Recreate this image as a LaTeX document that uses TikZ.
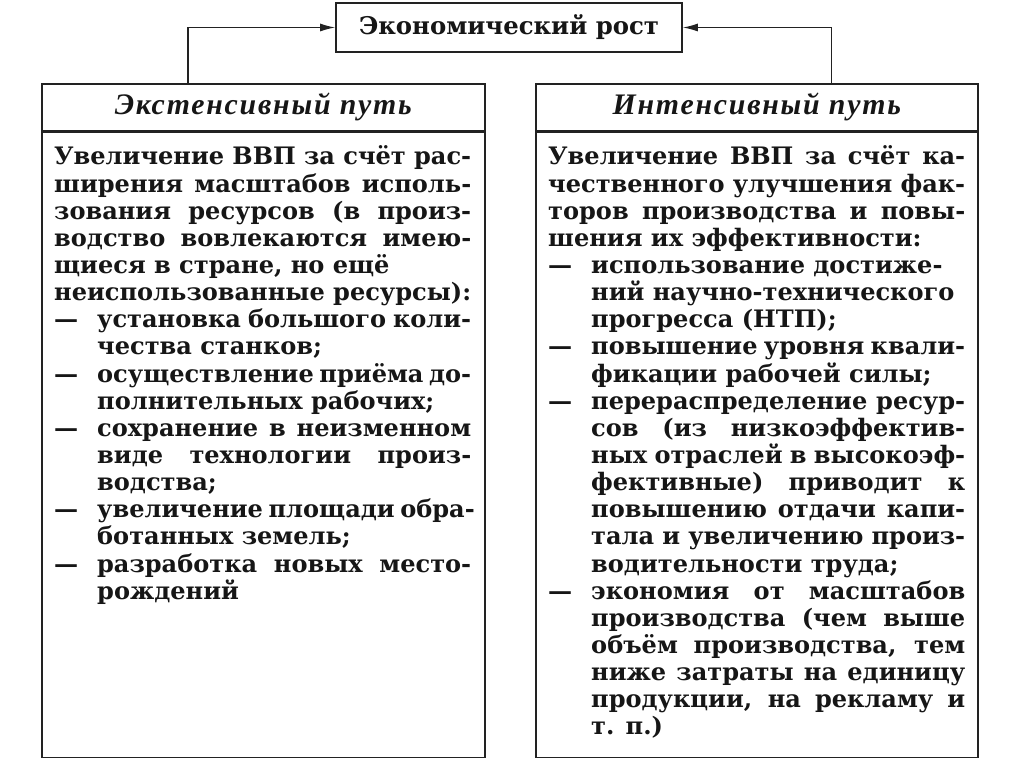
\documentclass[tikz,border=0pt]{standalone}
\usepackage{fontspec}
\setmainfont{DejaVu Serif}
\newfontfamily\bodyf{DejaVu Serif}
\newfontfamily\hdf[LetterSpace=6]{Liberation Serif}
\usetikzlibrary{arrows.meta}
\definecolor{ink}{HTML}{161616}
\definecolor{edge}{HTML}{222222}
\newlength\mylen
\newlength\itind
\setlength\itind{43pt}
\newcommand\lineJ[1]{\makebox[\linewidth][s]{#1}\par}
\newcommand\lineL[1]{\makebox[\linewidth][l]{#1}\par}
\newcommand\dashJ[1]{\makebox[\itind][l]{—}\makebox[\dimexpr\linewidth-\itind\relax][s]{#1}\par}
\newcommand\dashL[1]{\makebox[\itind][l]{—}\makebox[\dimexpr\linewidth-\itind\relax][l]{#1}\par}
\newcommand\indJ[1]{\hspace*{\itind}\makebox[\dimexpr\linewidth-\itind\relax][s]{#1}\par}
\newcommand\indL[1]{\hspace*{\itind}\makebox[\dimexpr\linewidth-\itind\relax][l]{#1}\par}
\tikzset{
  frame/.style={draw=edge, line width=1.6pt, rectangle, inner sep=0pt, text=ink},
  conn/.style={draw=edge, line width=1.3pt, -{Latex[length=15pt,width=8pt]}},
  txt/.style={inner sep=0pt, text=ink}
}
\begin{document}
\settowidth\mylen{\bodyf\bfseries\fontsize{10pt}{12pt}\selectfont неиспользованные ресурсы):}%
\pgfmathsetmacro\bsz{10*417/\mylen}%
\settowidth\mylen{\bodyf\bfseries\fontsize{10pt}{12pt}\selectfont Экономический рост}%
\pgfmathsetmacro\tsz{10*300/\mylen}%
\settowidth\mylen{\hdf\bfseries\itshape\fontsize{10pt}{12pt}\selectfont Экстенсивный путь}%
\pgfmathsetmacro\hsz{10*297/\mylen}%
\begin{tikzpicture}[x=1pt,y=-1pt]
\useasboundingbox[fill=white] (0,0) rectangle (1024,767);

\node[frame, minimum width=346pt, minimum height=49pt] (top) at (509,27.5)
  {\bodyf\bfseries\fontsize{\tsz pt}{\tsz pt}\selectfont Экономический рост};

\node[frame, minimum width=443pt, minimum height=47pt, anchor=north west] (lhead) at (41,83)
  {\hdf\bfseries\itshape\fontsize{\hsz pt}{\hsz pt}\selectfont Экстенсивный путь};
\node[frame, minimum width=443pt, minimum height=625pt, anchor=north west] (lbody) at (lhead.south west) {};

\node[frame, minimum width=442pt, minimum height=47pt, anchor=north west] (rhead) at (535,83)
  {\hdf\bfseries\itshape\fontsize{\hsz pt}{\hsz pt}\selectfont Интенсивный путь};
\node[frame, minimum width=442pt, minimum height=625pt, anchor=north west] (rbody) at (rhead.south west) {};

\draw[conn] ([xshift=147pt]lhead.north west) |- (top.west);
\draw[conn] ([xshift=-147pt]rhead.north east) |- (top.east);

\node[txt, anchor=base west] (ltext) at (54,165) {\parbox[t]{417pt}{%
\bodyf\bfseries\fontsize{\bsz pt}{27.14pt}\selectfont\lineskiplimit=-50pt\parindent=0pt\parskip=0pt
\lineJ{Увеличение ВВП за счёт рас-}
\lineJ{ширения масштабов исполь-}
\lineJ{зования ресурсов (в произ-}
\lineJ{водство вовлекаются имею-}
\lineL{щиеся в стране, но ещё}
\lineJ{неиспользованные ресурсы):}
\dashJ{установка большого коли-}
\indL{чества станков;}
\dashJ{осуществление приёма до-}
\indL{полнительных рабочих;}
\dashJ{сохранение в неизменном}
\indJ{виде технологии произ-}
\indL{водства;}
\dashJ{увеличение площади обра-}
\indL{ботанных земель;}
\dashJ{разработка новых место-}
\indL{рождений}}};

\node[txt, anchor=base west] (rtext) at (548,165) {\parbox[t]{417pt}{%
\bodyf\bfseries\fontsize{\bsz pt}{27.14pt}\selectfont\lineskiplimit=-50pt\parindent=0pt\parskip=0pt
\lineJ{Увеличение ВВП за счёт ка-}
\lineJ{чественного улучшения фак-}
\lineJ{торов производства и повы-}
\lineL{шения их эффективности:}
\dashL{использование достиже-}
\indL{ний научно-технического}
\indL{прогресса (НТП);}
\dashJ{повышение уровня квали-}
\indL{фикации рабочей силы;}
\dashJ{перераспределение ресур-}
\indJ{сов (из низкоэффектив-}
\indJ{ных отраслей в высокоэф-}
\indJ{фективные) приводит к}
\indJ{повышению отдачи капи-}
\indJ{тала и увеличению произ-}
\indL{водительности труда;}
\dashJ{экономия от масштабов}
\indJ{производства (чем выше}
\indJ{объём производства, тем}
\indJ{ниже затраты на единицу}
\indJ{продукции, на рекламу и}
\indL{т. п.)}}};
\end{tikzpicture}
\end{document}
